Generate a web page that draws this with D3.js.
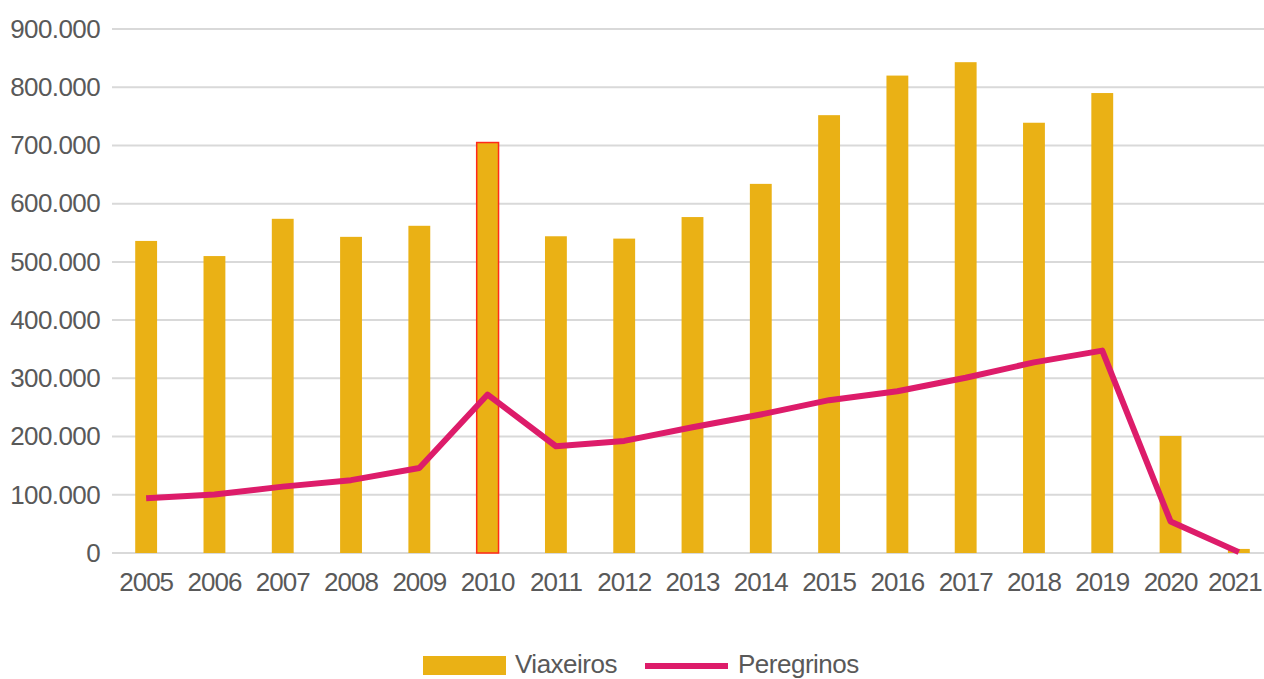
<!DOCTYPE html>
<html><head><meta charset="utf-8">
<script src="https://cdn.jsdelivr.net/npm/d3@7"></script>
<style>
html,body{margin:0;padding:0;background:#fff;}
svg{display:block;font-family:"Liberation Sans",Arial,sans-serif;}
</style></head>
<body><svg id="c" width="1264" height="679"></svg>
<script>
const years = ["2005","2006","2007","2008","2009","2010","2011","2012","2013","2014","2015","2016","2017","2018","2019","2020","2021"];
const viaxeiros = [536000,510000,574000,543000,562000,705000,544000,540000,577000,634000,752000,820000,843000,739000,790000,201000,7000];
const peregrinos = [93924,100377,114026,125141,145877,272135,183366,192488,215880,237886,262516,277915,301036,327378,347578,54144,1500];
const yTicks = [0,100000,200000,300000,400000,500000,600000,700000,800000,900000];
const highlightYear = "2010";

const svg = d3.select("#c");
const mLeft = 112, mRight = 1273, mTop = 29, mBottom = 553;

const x = d3.scaleBand().domain(years).range([mLeft, mRight]).paddingInner(0.68).paddingOuter(0.34);
const y = d3.scaleLinear().domain([0, 900000]).range([mBottom, mTop]);
const fmt = v => v === 0 ? "0" : d3.format(",")(v).replace(/,/g, ".");

// gridlines
svg.append("g").selectAll("line").data(yTicks).join("line")
  .attr("x1", mLeft).attr("x2", 1264)
  .attr("y1", d => y(d)).attr("y2", d => y(d))
  .attr("stroke", "#d9d9d9").attr("stroke-width", 2);

// y axis labels
const yAxis = svg.append("g").attr("transform", `translate(${mLeft},0)`)
  .call(d3.axisLeft(y).tickValues(yTicks).tickFormat(fmt).tickSize(0).tickPadding(12));
yAxis.select(".domain").remove();
yAxis.selectAll("text").attr("fill", "#595959").style("font-size", "26px")
  .style("letter-spacing", "-0.6px").attr("font-family", "Liberation Sans, Arial, sans-serif");

// x axis labels
const xAxis = svg.append("g").attr("transform", `translate(0,${mBottom})`)
  .call(d3.axisBottom(x).tickSize(0).tickPadding(20));
xAxis.select(".domain").remove();
xAxis.selectAll("text").attr("fill", "#595959").style("font-size", "26px")
  .style("letter-spacing", "-1px").attr("font-family", "Liberation Sans, Arial, sans-serif")
  .attr("dx", d => d === years[years.length - 1] ? -4 : 0);

// bars
svg.append("g").selectAll("rect").data(years).join("rect")
  .attr("x", d => x(d)).attr("width", x.bandwidth())
  .attr("y", (d, i) => y(viaxeiros[i]))
  .attr("height", (d, i) => mBottom - y(viaxeiros[i]))
  .attr("fill", "#EAB115")
  .attr("stroke", d => d === highlightYear ? "#FF2A1A" : "none")
  .attr("stroke-width", 1.5);

// line
const line = d3.line().x((d, i) => x(years[i]) + x.bandwidth() / 2).y(d => y(d));
svg.append("path").datum(peregrinos)
  .attr("d", line).attr("fill", "none")
  .attr("stroke", "#DD1C6A").attr("stroke-width", 6).attr("stroke-linejoin", "round");

// legend
const lg = svg.append("g");
lg.append("rect").attr("x", 423).attr("y", 656).attr("width", 83).attr("height", 19).attr("fill", "#EAB115");
lg.append("text").attr("x", 515).attr("y", 673).text("Viaxeiros")
  .attr("fill", "#595959").style("font-size", "26px").style("letter-spacing", "-0.5px");
lg.append("line").attr("x1", 645).attr("x2", 728).attr("y1", 666).attr("y2", 666)
  .attr("stroke", "#DD1C6A").attr("stroke-width", 6);
lg.append("text").attr("x", 738).attr("y", 673).text("Peregrinos")
  .attr("fill", "#595959").style("font-size", "26px").style("letter-spacing", "-0.5px");
</script></body></html>
